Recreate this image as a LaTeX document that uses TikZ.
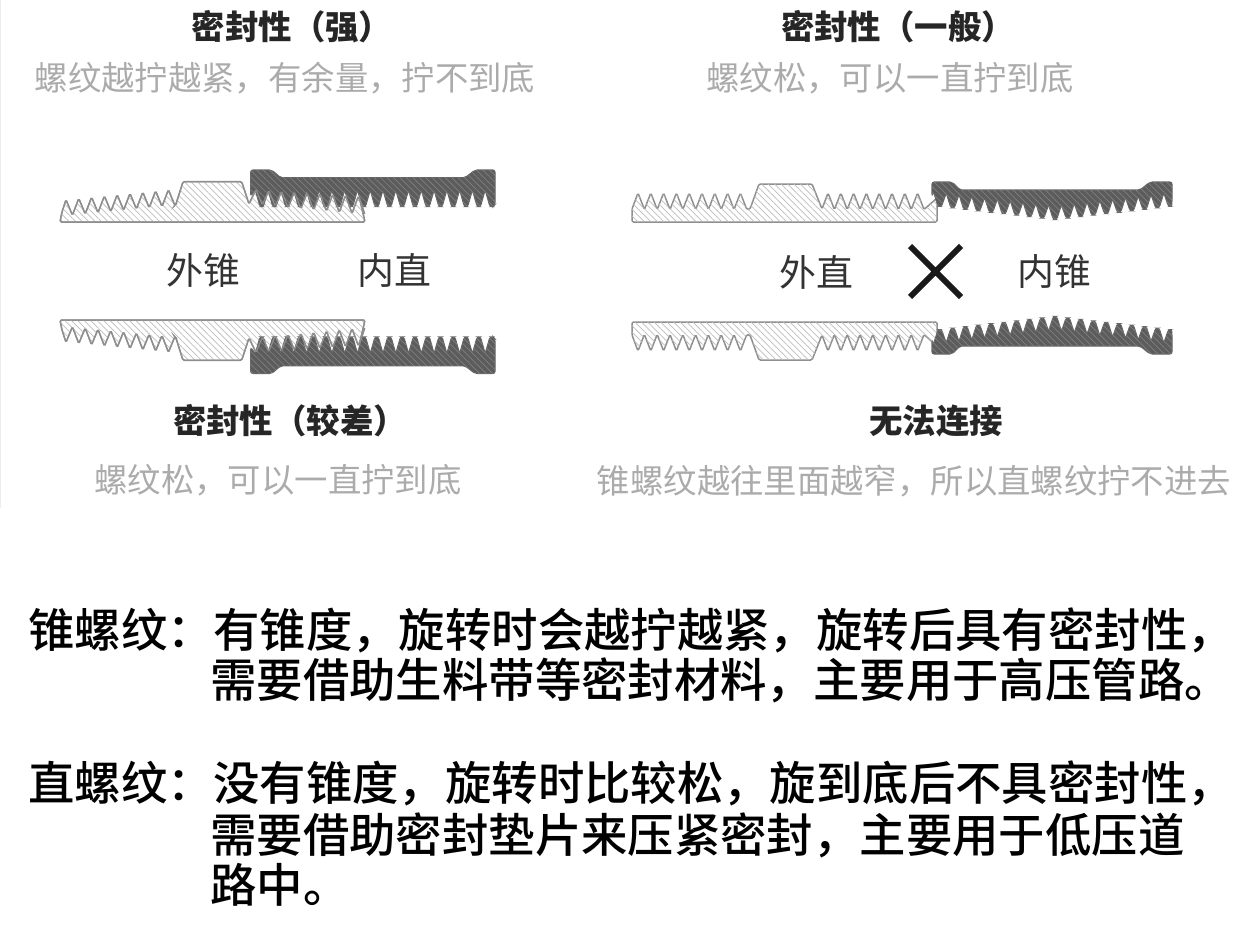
\documentclass[tikz,border=0pt]{standalone}
\usepackage{fontspec}
\usetikzlibrary{patterns.meta}
\setmainfont{Noto Sans CJK SC}
\newfontfamily\mediumfont{Noto Sans CJK SC Medium}

\definecolor{lightgrey}{HTML}{ABABAB}
\definecolor{outergrey}{HTML}{8E8E8E}
\definecolor{darkgrey}{HTML}{5C5C5C}

\tikzset{
	title node/.style={font=\fontsize{19}{22}\selectfont\bfseries,text=black!85},
	note node/.style={font=\fontsize{19}{22}\selectfont,text=lightgrey},
	thread node/.style={font=\fontsize{21}{24}\selectfont,text=black!80},
	body node/.style={anchor=west,inner sep=0pt,font=\mediumfont\fontsize{26.4}{30}\selectfont},
	male part/.style={draw=outergrey,line width=.85pt,rounded corners=.8pt,fill=white,
		postaction={pattern={Lines[angle=-45,distance=2.6pt,line width=.4pt]},pattern color=black!26}},
	male line/.style={draw=outergrey,line width=.7pt,rounded corners=.8pt},
	female part/.style={draw=black!60,line width=.6pt,rounded corners=1.2pt,fill=darkgrey,
		postaction={pattern={Lines[angle=-45,distance=2.6pt,line width=.4pt]},pattern color=black!50}}
}

% outer taper, tip of the pin to the right
\newcommand{\outertaper}[1]{
	\path[#1] (60,222) -- (62,212)
		\foreach \i in {0,...,8} {
			-- ({66+12.8*\i},{199.7-1.25*\i}) -- ({72.4+12.8*\i},{215.2-1.25*\i})
		}
		-- (176,204) -- (183,181.7) -- (241.7,181.7) -- (249,204)
		\foreach \i in {0,...,8} {
			-- ({256+12.8*\i},{189.5+.83*\i}) -- ({262.4+12.8*\i},{205+1.2*\i})
		}
		-- (359,196) -- (365,222) -- cycle;
}
% outer straight
\newcommand{\outerstraight}[1]{
	\path[#1] (632,222) -- (632,209)
		\foreach \i in {0,...,8} {
			-- ({638+12.8*\i},193) -- ({644.4+12.8*\i},209.5)
		}
		-- (750,209) -- (759,184) -- (812,184) -- (822,209)
		\foreach \i in {0,...,7} {
			-- ({828+12.8*\i},193) -- ({834.4+12.8*\i},209.5)
		}
		-- (937,198) -- (937,222) -- cycle;
}
% inner straight
\newcommand{\innerstraight}[1]{
	\path[#1] (250.7,170) -- (271.7,170) -- (280.7,177.7) -- (465,177.7) -- (475,170) -- (495,170)
		-- (495,204.5)
		\foreach \i in {18,17,...,0} {
			-- ({263.4+12.77*\i},206.5) -- ({260+12.77*\i},206.5) -- ({255.3+12.77*\i},190)
		}
		-- (250.7,196) -- cycle;
}
% inner taper
\newcommand{\innertaper}[1]{
	\path[#1] (932,182) -- (952,182) -- (960,190) -- (1140,190) -- (1150,182) -- (1172,182)
		-- (1172,197)
		\foreach \i in {9,8,...,-9} {
			-- ({1056.7+12.8*\i},{219.5-1.45*abs(\i)}) -- ({1053.3+12.8*\i},{219.5-1.45*abs(\i)}) -- ({1048.6+12.8*\i},{205.5-1.45*abs(\i-.5)})
		}
		-- (932,196) -- cycle;
}

\begin{document}
\begin{tikzpicture}[x=.02cm,y=-.02cm]
	\useasboundingbox (0,0) rectangle (1240,934);

	\draw[black!7,line width=.4pt] (0,0) -- (0,508);

	\node[title node] (t1) at (292,27) {密封性（强）};
	\node[note node] (n1) at (285,78) {螺纹越拧越紧，有余量，拧不到底};
	\node[title node] (t2) at (898,27) {密封性（一般）};
	\node[note node] (n2) at (890,78) {螺纹松，可以一直拧到底};

	% left pair
	\outertaper{male part}
	\innerstraight{female part}
	\outertaper{male line}
	\begin{scope}[shift={(0,542)},yscale=-1]
		\outertaper{male part}
	\end{scope}
	\begin{scope}[shift={(0,543.5)},yscale=-1]
		\innerstraight{female part}
	\end{scope}
	\begin{scope}[shift={(0,542)},yscale=-1]
		\outertaper{male line}
	\end{scope}

	% right pair
	\outerstraight{male part}
	\innertaper{female part}
	\begin{scope}[shift={(0,544)},yscale=-1]
		\outerstraight{male part}
	\end{scope}
	\begin{scope}[shift={(0,536)},yscale=-1]
		\innertaper{female part}
	\end{scope}

	\node[thread node] (a1) at (203,270) {外锥};
	\node[thread node] (a2) at (394,270) {内直};
	\node[thread node] (a3) at (816,272) {外直};
	\node[thread node] (a4) at (1054,272) {内锥};

	\coordinate (c1) at (910,246);
	\coordinate (c2) at (961,297);
	\coordinate (c3) at (961,246);
	\coordinate (c4) at (910,297);
	\draw[line width=3.3pt,black!90] (c1) -- (c2) (c3) -- (c4);

	\node[title node] (t3) at (290,421) {密封性（较差）};
	\node[note node] (n3) at (278,480) {螺纹松，可以一直拧到底};
	\node[title node] (t4) at (936,421) {无法连接};
	\node[note node] (n4) at (914,481) {锥螺纹越往里面越窄，所以直螺纹拧不进去};

	\node[body node] (b1) at (28,630) {锥螺纹：};
	\node[body node] (b2) at (213,630) {有锥度，旋转时会越拧越紧，旋转后具有密封性，};
	\node[body node] (b3) at (210,680) {需要借助生料带等密封材料，主要用于高压管路。};
	\node[body node] (b4) at (28,783) {直螺纹：};
	\node[body node] (b5) at (213,783) {没有锥度，旋转时比较松，旋到底后不具密封性，};
	\node[body node] (b6) at (210,835) {需要借助密封垫片来压紧密封，主要用于低压道};
	\node[body node] (b7) at (210,885) {路中。};
\end{tikzpicture}
\end{document}
